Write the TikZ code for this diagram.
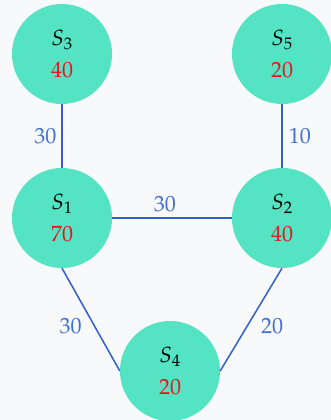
\documentclass[tikz,border=0pt]{standalone}
\usepackage{mathpazo}
\definecolor{bgcol}{RGB}{248,249,250}
\definecolor{nodecol}{RGB}{84,227,195}
\definecolor{edgecol}{RGB}{48,96,208}
\definecolor{lblcol}{RGB}{62,111,214}
\definecolor{numcol}{RGB}{232,20,27}
\begin{document}
\begin{tikzpicture}[x=1pt,y=-1pt,
  vert/.style={circle, fill=nodecol, minimum size=100pt, inner sep=0pt, align=center,
    font=\fontsize{22}{32}\selectfont},
  edge/.style={draw=edgecol, line width=1.5pt},
  lbl/.style={text=lblcol, inner sep=0pt, font=\fontsize{22}{26}\selectfont}]
\fill[bgcol] (0,0) rectangle (331,420);
\useasboundingbox (0,0) rectangle (331,420);
\node[vert] (s3) at (62,54) {$S_3$\\{\color{numcol}$40$}};
\node[vert] (s5) at (282,54) {$S_5$\\{\color{numcol}$20$}};
\node[vert] (s1) at (62,218) {$S_1$\\{\color{numcol}$70$}};
\node[vert] (s2) at (282,218) {$S_2$\\{\color{numcol}$40$}};
\node[vert] (s4) at (170,371) {$S_4$\\{\color{numcol}$20$}};
\draw[edge] (s3.south) -- node[lbl, anchor=east, xshift=-5pt] {$30$} (s1.north);
\draw[edge] (s5.south) -- node[lbl, anchor=west, xshift=6pt] {$10$} (s2.north);
\draw[edge] (s1.east) -- node[lbl, pos=0.44, anchor=south, yshift=5pt] {$30$} (s2.west);
\draw[edge] (s1.south) -- node[lbl, pos=0.56, anchor=east, xshift=-12pt] {$30$} (s4.west);
\draw[edge] (s2.south) -- node[lbl, pos=0.56, anchor=west, xshift=13pt] {$20$} (s4.east);
\end{tikzpicture}
\end{document}
